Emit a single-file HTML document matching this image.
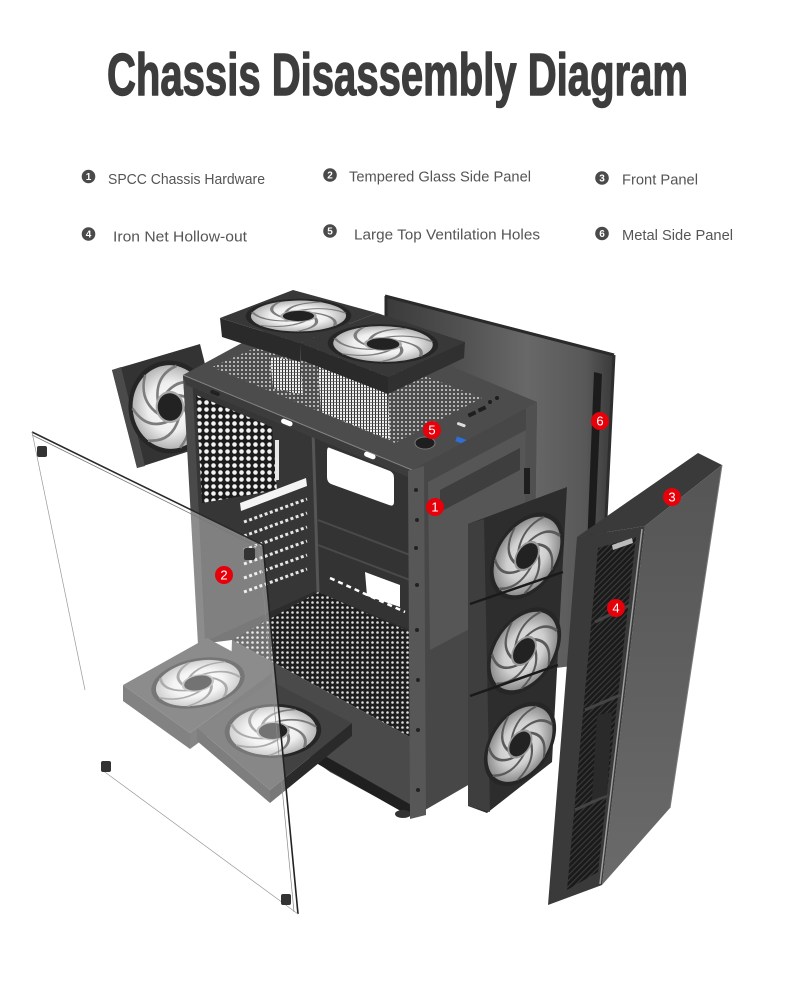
<!DOCTYPE html>
<html>
<head>
<meta charset="utf-8">
<style>
html,body{margin:0;padding:0;background:#fff}
svg{display:block}
</style>
</head>
<body>
<svg width="790" height="982" viewBox="0 0 790 982" xmlns="http://www.w3.org/2000/svg" xmlns:xlink="http://www.w3.org/1999/xlink">
<defs>
  <pattern id="holes" width="7" height="7" patternUnits="userSpaceOnUse">
    <rect width="7" height="7" fill="#1c1c1c"/>
    <circle cx="3.5" cy="3.5" r="2.3" fill="#f2f2f2"/>
  </pattern>
  <pattern id="fineholes" width="5" height="5" patternUnits="userSpaceOnUse">
    <rect width="5" height="5" fill="#1e1e1e"/>
    <circle cx="2.5" cy="2.5" r="1.3" fill="#dcdcdc"/>
  </pattern>
  <pattern id="mesh" width="4" height="4" patternUnits="userSpaceOnUse">
    <rect width="4" height="4" fill="#4e4e4e"/>
    <circle cx="2" cy="2" r="1" fill="#d5d5d5"/>
  </pattern>
  <pattern id="stripes" width="3" height="3" patternUnits="userSpaceOnUse">
    <rect width="3" height="3" fill="#efefef"/>
    <rect width="1" height="3" fill="#2e2e2e"/>
    <rect width="3" height="0.7" fill="#555"/>
  </pattern>
  <pattern id="grill" width="4" height="4" patternUnits="userSpaceOnUse" patternTransform="rotate(45)">
    <rect width="4" height="4" fill="#1a1a1a"/>
    <rect width="1.2" height="4" fill="#3a3a3a"/>
  </pattern>
  <radialGradient id="bladeG" cx="0" cy="0" r="45" gradientUnits="userSpaceOnUse">
    <stop offset="0" stop-color="#ffffff"/>
    <stop offset="0.6" stop-color="#eeeeee"/>
    <stop offset="1" stop-color="#b5b5b5"/>
  </radialGradient>
  <radialGradient id="bladeG2" cx="0" cy="0" r="45" gradientUnits="userSpaceOnUse">
    <stop offset="0" stop-color="#e8e8e8"/>
    <stop offset="0.6" stop-color="#cfcfcf"/>
    <stop offset="1" stop-color="#8e8e8e"/>
  </radialGradient>
  <linearGradient id="p6g" x1="385" y1="0" x2="613" y2="0" gradientUnits="userSpaceOnUse">
    <stop offset="0" stop-color="#3a3a3a"/>
    <stop offset="0.35" stop-color="#525252"/>
    <stop offset="0.62" stop-color="#686868"/>
    <stop offset="0.88" stop-color="#585858"/>
    <stop offset="1" stop-color="#3a3a3a"/>
  </linearGradient>
  <linearGradient id="fpg" x1="0" y1="465" x2="0" y2="885" gradientUnits="userSpaceOnUse">
    <stop offset="0" stop-color="#555555"/>
    <stop offset="1" stop-color="#6a6a6a"/>
  </linearGradient>

  <g id="fanA">
    <circle r="50" fill="#262626"/>
    <circle r="45" fill="url(#bladeG)"/>
    <g fill="none" stroke="#7c7c7c" stroke-width="3">
      <path d="M0,-16 Q24,-30 44,-10"/>
      <path d="M0,-16 Q24,-30 44,-10" transform="rotate(51.4)"/>
      <path d="M0,-16 Q24,-30 44,-10" transform="rotate(102.8)"/>
      <path d="M0,-16 Q24,-30 44,-10" transform="rotate(154.3)"/>
      <path d="M0,-16 Q24,-30 44,-10" transform="rotate(205.7)"/>
      <path d="M0,-16 Q24,-30 44,-10" transform="rotate(257.1)"/>
      <path d="M0,-16 Q24,-30 44,-10" transform="rotate(308.6)"/>
    </g>
    <circle r="16" fill="#222" stroke="#a8a8a8" stroke-width="2.5"/>
  </g>
  <g id="fanB">
    <circle r="50" fill="#262626"/>
    <circle r="45" fill="url(#bladeG2)"/>
    <g fill="none" stroke="#5a5a5a" stroke-width="3">
      <path d="M0,-16 Q24,-30 44,-10"/>
      <path d="M0,-16 Q24,-30 44,-10" transform="rotate(51.4)"/>
      <path d="M0,-16 Q24,-30 44,-10" transform="rotate(102.8)"/>
      <path d="M0,-16 Q24,-30 44,-10" transform="rotate(154.3)"/>
      <path d="M0,-16 Q24,-30 44,-10" transform="rotate(205.7)"/>
      <path d="M0,-16 Q24,-30 44,-10" transform="rotate(257.1)"/>
      <path d="M0,-16 Q24,-30 44,-10" transform="rotate(308.6)"/>
    </g>
    <circle r="16" fill="#222" stroke="#999" stroke-width="2.5"/>
  </g>
</defs>

<rect width="790" height="982" fill="#fff"/>

<!-- Title -->
<text x="107" y="95" font-family="'Liberation Sans Narrow','Liberation Sans',sans-serif" font-weight="bold" font-size="59" fill="#3d3d3d" stroke="#3d3d3d" stroke-width="1.4" stroke-linejoin="round" textLength="581" lengthAdjust="spacingAndGlyphs">Chassis Disassembly Diagram</text>

<!-- Legend -->
<g font-family="'Liberation Sans',sans-serif">
  <g fill="#4a4a4a">
    <circle cx="88.5" cy="176.5" r="6.8"/>
    <circle cx="330" cy="175" r="6.8"/>
    <circle cx="602" cy="178" r="6.8"/>
    <circle cx="88.5" cy="234" r="6.8"/>
    <circle cx="330" cy="231" r="6.8"/>
    <circle cx="602" cy="233.5" r="6.8"/>
  </g>
  <g fill="#fff" font-size="10" font-weight="bold" text-anchor="middle">
    <text x="88.5" y="180.2">1</text>
    <text x="330" y="178.7">2</text>
    <text x="602" y="181.7">3</text>
    <text x="88.5" y="237.7">4</text>
    <text x="330" y="234.7">5</text>
    <text x="602" y="237.2">6</text>
  </g>
  <g fill="#555" font-size="15">
    <text x="108" y="184" textLength="157" lengthAdjust="spacingAndGlyphs">SPCC Chassis Hardware</text>
    <text x="349" y="181.5" textLength="182" lengthAdjust="spacingAndGlyphs">Tempered Glass Side Panel</text>
    <text x="622" y="184.5" textLength="76" lengthAdjust="spacingAndGlyphs">Front Panel</text>
    <text x="113" y="241.5" textLength="134" lengthAdjust="spacingAndGlyphs">Iron Net Hollow-out</text>
    <text x="354" y="239.5" textLength="186" lengthAdjust="spacingAndGlyphs">Large Top Ventilation Holes</text>
    <text x="622" y="240" textLength="111" lengthAdjust="spacingAndGlyphs">Metal Side Panel</text>
  </g>
</g>

<!-- Metal side panel (6) -->
<polygon points="385,296 614,355 600,640 596,663 556,668 540,660 385,620" fill="url(#p6g)"/>
<line x1="385" y1="296" x2="614" y2="355" stroke="#2a2a2a" stroke-width="3"/>
<line x1="386" y1="296" x2="386" y2="320" stroke="#2a2a2a" stroke-width="3"/>
<line x1="614" y1="355" x2="600" y2="640" stroke="#2e2e2e" stroke-width="3"/>
<polygon points="594,372 602,374 592,600 585,598" fill="#1c1c1c"/>

<!-- Rear fan -->
<polygon points="112,370 200,344 224,440 137,468" fill="#333"/>
<polygon points="112,370 121,367 145,466 137,468" fill="#4a4a4a"/>
<use href="#fanA" xlink:href="#fanA" transform="matrix(0.8,-0.235,0.225,0.9,170,407)"/>

<!-- Chassis interior (left side open) -->
<polygon points="183,375 412,470 412,737 232,640 200,644" fill="#2c2c2c"/>
<polygon points="186,380 312,318 318,590 204,642" fill="#363636"/>
<polygon points="196,395 272,427 277,490 202,503" fill="url(#holes)"/>
<rect x="275" y="440" width="4" height="40" fill="#e8e8e8"/>
<polygon points="240,503 306,478 307,486 241,511" fill="#f4f4f4"/>
<g stroke="#e6e6e6" stroke-width="3" stroke-dasharray="3 2.5">
  <line x1="244" y1="522" x2="307" y2="499"/>
  <line x1="244" y1="536" x2="307" y2="513"/>
  <line x1="244" y1="550" x2="307" y2="527"/>
  <line x1="244" y1="564" x2="307" y2="541"/>
  <line x1="244" y1="578" x2="307" y2="555"/>
  <line x1="244" y1="592" x2="307" y2="569"/>
</g>
<polygon points="313,430 410,470 410,630 318,592" fill="#333"/>
<line x1="313" y1="430" x2="318" y2="592" stroke="#555" stroke-width="3"/>
<path d="M330,448 L390,471 Q394,473 394,478 L394,502 Q394,507 389,505 L331,484 Q327,482 327,477 L327,452 Q327,446 330,448Z" fill="#fff"/>
<line x1="318" y1="520" x2="410" y2="555" stroke="#4a4a4a" stroke-width="2"/>
<line x1="318" y1="545" x2="410" y2="580" stroke="#4a4a4a" stroke-width="2"/>
<polygon points="365,572 400,585 400,607 367,596" fill="#fff"/>
<line x1="330" y1="578" x2="405" y2="612" stroke="#fff" stroke-width="2.5" stroke-dasharray="5 4"/>
<polygon points="232,640 318,592 410,632 410,737" fill="url(#fineholes)"/>
<polygon points="232,640 410,737 413,817 330,772 230,700" fill="#4a4a4a"/>
<polygon points="318,752 413,806 413,818 316,763" fill="#1f1f1f"/>
<ellipse cx="403" cy="814" rx="8" ry="4" fill="#333"/>
<polygon points="183,375 192,372 205,642 198,645" fill="#4a4a4a"/>

<!-- Chassis top face -->
<polygon points="183,375 308,307 537,402 412,470" fill="#4c4c4c"/>
<polygon points="183,375 412,470 413,479 186,385" fill="#3c3c3c"/>
<line x1="183" y1="375" x2="412" y2="470" stroke="#858585" stroke-width="1"/>
<polygon points="412,470 537,402 537,411 413,479" fill="#575757"/>
<polygon points="212,367 300,328 482,398 395,443" fill="url(#mesh)"/>
<polygon points="270,357 300,361 303,395 273,388" fill="url(#stripes)"/>
<polygon points="318,366 388,392 390,440 321,412" fill="url(#stripes)"/>
<rect x="281" y="420" width="12" height="5" rx="2.5" fill="#fff" transform="rotate(22 287 422)"/>
<rect x="364" y="453" width="12" height="5" rx="2.5" fill="#fff" transform="rotate(22 370 455)"/>
<rect x="210" y="391" width="10" height="4" rx="2" fill="#222" transform="rotate(22 215 393)"/>
<ellipse cx="425" cy="443" rx="10" ry="6" fill="#1e1e1e" stroke="#777" stroke-width="1"/>
<rect x="456" y="438" width="10" height="5" fill="#2d6fd6" transform="rotate(20 461 440)"/>
<rect x="457" y="423" width="9" height="3" rx="1.5" fill="#ddd" transform="rotate(20 461 424)"/>
<g fill="#1e1e1e">
  <rect x="468" y="412" width="8" height="4" transform="rotate(-25 472 414)"/>
  <rect x="478" y="407" width="8" height="4" transform="rotate(-25 482 409)"/>
  <circle cx="490" cy="402" r="2"/>
  <circle cx="497" cy="398" r="2"/>
</g>

<!-- Chassis front face -->
<polygon points="412,470 537,402 532,748 413,817" fill="#474747"/>
<polygon points="428,482 526,430 524,600 430,650" fill="#5a5a5a" opacity="0.8"/>
<polygon points="440,490 520,448 520,470 440,512" fill="#3e3e3e"/>
<polygon points="408,471 424,466 426,815 410,819" fill="#575757"/>
<g fill="#222">
  <circle cx="416" cy="490" r="2"/><circle cx="417" cy="520" r="2"/><circle cx="416" cy="548" r="2"/>
  <circle cx="417" cy="585" r="2"/><circle cx="417" cy="630" r="2"/><circle cx="418" cy="680" r="2"/>
  <circle cx="418" cy="730" r="2"/><circle cx="418" cy="790" r="2"/>
</g>
<polygon points="526,408 537,402 532,748 522,752" fill="#505050"/>
<rect x="524" y="468" width="6" height="26" fill="#1e1e1e"/>

<!-- Top fans -->
<polygon points="220,318 300,343 300,362 222,337" fill="#2a2a2a"/>
<polygon points="220,318 293,290 377,313 300,343" fill="#383838"/>
<use href="#fanA" xlink:href="#fanA" transform="matrix(0.69,-0.265,0.8,0.22,298.5,316)"/>
<polygon points="300,343 388,377 388,394 301,360" fill="#2a2a2a"/>
<polygon points="388,377 465,342 464,358 388,394" fill="#303030"/>
<polygon points="300,343 377,313 465,342 388,377" fill="#383838"/>
<use href="#fanA" xlink:href="#fanA" transform="matrix(0.73,-0.285,0.83,0.275,383,344)"/>

<!-- Front fans -->
<polygon points="468,524 567,487 552,762 487,813 468,806" fill="#2d2d2d"/>
<polygon points="468,524 484,519 490,812 468,806" fill="#3e3e3e"/>
<use href="#fanB" xlink:href="#fanB" transform="matrix(0.74,-0.27,-0.054,0.83,527,556)"/>
<use href="#fanB" xlink:href="#fanB" transform="matrix(0.74,-0.27,-0.054,0.83,524,651)"/>
<use href="#fanB" xlink:href="#fanB" transform="matrix(0.72,-0.26,-0.054,0.8,520,744)"/>
<line x1="470" y1="604" x2="563" y2="572" stroke="#1a1a1a" stroke-width="2.5"/>
<line x1="470" y1="696" x2="558" y2="665" stroke="#1a1a1a" stroke-width="2.5"/>

<!-- Front panel (3) with mesh (4) -->
<polygon points="577,537 698,453 722,465 645,526" fill="#3a3a3a"/>
<polygon points="645,526 722,465 670,808 602,885" fill="url(#fpg)"/>
<line x1="722" y1="465" x2="670" y2="808" stroke="#7a7a7a" stroke-width="1"/>
<polygon points="577,537 645,526 602,885 548,905" fill="#3a3a3a"/>
<polygon points="598,548 636,537 598,872 567,890" fill="url(#grill)"/>
<g stroke="#444" stroke-width="3">
  <line x1="595" y1="622" x2="630" y2="605"/>
  <line x1="585" y1="710" x2="620" y2="695"/>
  <line x1="575" y1="810" x2="608" y2="795"/>
</g>
<polygon points="597,715 612,712 607,795 592,800" fill="#2a2a2a"/>
<line x1="642" y1="529" x2="600" y2="884" stroke="#a0a0a0" stroke-width="1.5"/>
<polygon points="612,545 632,538 633,543 613,550" fill="#bbb"/>

<!-- Bottom fans -->
<polygon points="123,685 190,733 190,749 123,701" fill="#3a3a3a"/>
<polygon points="190,733 272,673 272,689 190,749" fill="#3f3f3f"/>
<polygon points="123,685 207,638 272,673 190,733" fill="#4a4a4a"/>
<use href="#fanA" xlink:href="#fanA" transform="matrix(0.74,-0.41,0.57,0.31,198,683)"/>
<polygon points="197,728 270,790 270,803 197,741" fill="#333"/>
<polygon points="270,790 352,723 352,736 270,803" fill="#2a2a2a"/>
<polygon points="197,728 273,682 352,723 270,790" fill="#424242"/>
<use href="#fanA" xlink:href="#fanA" transform="matrix(0.67,-0.405,0.695,0.36,273,731)"/>

<!-- Tempered glass (2) -->
<polygon points="32,432 263,545 298,914 102,770" fill="#fff" fill-opacity="0.37"/>
<line x1="32" y1="432" x2="263" y2="545" stroke="#2a2a2a" stroke-width="1.6"/>
<line x1="32" y1="435" x2="262" y2="549" stroke="#777" stroke-width="0.8"/>
<line x1="263" y1="545" x2="298" y2="914" stroke="#222" stroke-width="1.6"/>
<line x1="259" y1="547" x2="294" y2="912" stroke="#888" stroke-width="0.7"/>
<line x1="32" y1="432" x2="85" y2="690" stroke="#999" stroke-width="0.7"/>
<line x1="102" y1="770" x2="298" y2="914" stroke="#999" stroke-width="0.7"/>
<g fill="#333">
  <rect x="37" y="446" width="10" height="11" rx="2"/>
  <rect x="101" y="761" width="10" height="11" rx="2"/>
  <rect x="281" y="894" width="10" height="11" rx="2"/>
  <rect x="244" y="548" width="11" height="12" rx="2"/>
</g>

<!-- Markers -->
<g fill="#e5000a">
  <circle cx="435" cy="507" r="9"/>
  <circle cx="224" cy="575" r="9"/>
  <circle cx="672" cy="497" r="9"/>
  <circle cx="616" cy="608" r="9"/>
  <circle cx="432" cy="430" r="9"/>
  <circle cx="600" cy="421" r="9"/>
</g>
<g fill="#fff" font-family="'Liberation Sans',sans-serif" font-size="13" text-anchor="middle">
  <text x="435" y="511.7">1</text>
  <text x="224" y="579.7">2</text>
  <text x="672" y="501.7">3</text>
  <text x="616" y="612.7">4</text>
  <text x="432" y="434.7">5</text>
  <text x="600" y="425.7">6</text>
</g>
</svg>
</body>
</html>
